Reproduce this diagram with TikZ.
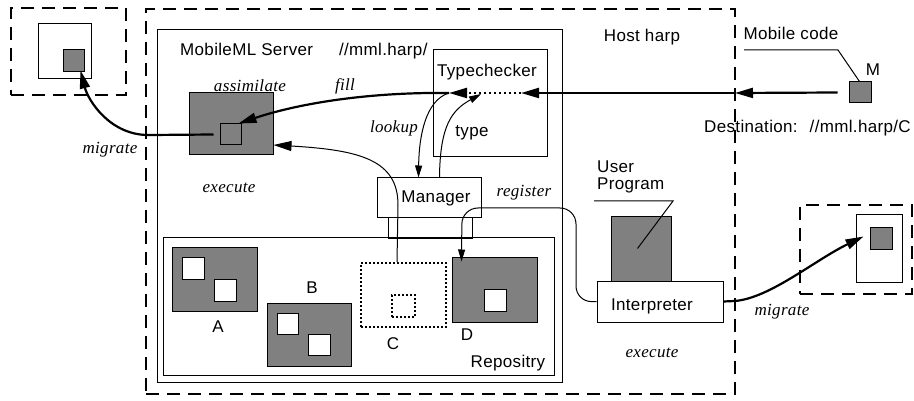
\documentclass[tikz,border=0pt]{standalone}
\usepackage{fontspec}
\newfontfamily\sansfnt{Liberation Sans}[LetterSpace=2]
\newfontfamily\seriffnt{Liberation Serif}[LetterSpace=2]
\usetikzlibrary{arrows.meta,fit}

\tikzset{
  frame/.style={draw, line width=1pt, inner sep=0pt},
  codebox/.style={frame, fill=gray},
  dashbox/.style={draw, line width=2.6pt, dash pattern=on 13pt off 8pt, inner sep=0pt},
  dotbox/.style={draw, line width=2pt, dash pattern=on 2pt off 2pt, inner sep=0pt},
  lbl/.style={inner sep=0pt, font=\sansfnt\fontsize{17pt}{17pt}\selectfont},
  itl/.style={inner sep=0pt, font=\seriffnt\itshape\fontsize{17pt}{19pt}\selectfont},
  wire/.style={line width=1pt},
  heavy/.style={line width=2.2pt},
  bigtip/.style={-{Triangle[length=18pt,width=10pt]}},
  smalltip/.style={-{Triangle[length=12pt,width=7pt]}},
}

\begin{document}
\begin{tikzpicture}[x=1pt,y=-1pt]
\useasboundingbox (0,0) rectangle (914,401);

% ---- remote host on the left
\node[dashbox, fit={(11,8) (126,95)}] (lhost) {};
\node[frame, fit={(38,24) (91,79)}] (lsrv) {};
\node[codebox, fit={(63,50) (84,72)}] (lcode) {};

% ---- remote host on the right
\node[dashbox, fit={(800,205) (912,294)}] (rhost) {};
\node[frame, fit={(856,215) (902,282)}] (rsrv) {};
\node[codebox, fit={(870,228) (892,250)}] (rcode) {};

% ---- host harp
\node[dashbox, fit={(146,9) (735,394)}] (host) {};
\node[lbl] (hostlbl) at (642,37) {Host harp};

% MobileML server
\node[frame, fit={(157,30) (562,382)}] (srv) {};
\node[lbl, anchor=west] (srvlbl) at (180,51) {MobileML Server\hspace{26pt}//mml.harp/};

% assimilated code
\node[codebox, fit={(189,93) (273,155)}] (asm) {};
\node[frame, fit={(220,124) (241,145)}] (asq) {};
\node[itl] (assimlbl) at (250,86) {assimilate};
\node[itl] (filllbl) at (345,86) {fill};
\node[itl] (exec1) at (229,188) {execute};

% typechecker
\node[frame, fit={(433,50) (547,157)}] (tc) {};
\node[lbl] (tclbl) at (487,72) {Typechecker};
\node[lbl] (typelbl) at (472,133) {type};
\node[itl] (lookuplbl) at (394,128) {lookup};

% manager
\node[frame, fit={(377,178) (481,218)}] (man) {};
\node[lbl] (manlbl) at (436,198) {Manager};
\node[frame, fit={(388,218) (472,239)}] (manfoot) {};
\node[itl] (reglbl) at (524,193) {register};

% repository
\node[frame, fit={(163,238) (554,375)}] (repo) {};
\node[lbl] (repolbl) at (508,363) {Repositry};

\node[codebox, fit={(172,248) (257,311)}] (abox) {};
\node[frame, fill=white, fit={(182,258) (204,279)}] (aq1) {};
\node[frame, fill=white, fit={(214,279) (236,301)}] (aq2) {};
\node[lbl] (albl) at (218,327) {A};

\node[codebox, fit={(267,303) (351,366)}] (bbox) {};
\node[frame, fill=white, fit={(277,313) (298,334)}] (bq1) {};
\node[frame, fill=white, fit={(308,334) (330,355)}] (bq2) {};
\node[lbl] (blbl) at (312,288) {B};

\node[dotbox, fit={(361,263) (446,327)}] (cbox) {};
\node[dotbox, fit={(392,295) (415,317)}] (cq) {};
\node[lbl] (clbl) at (393,344) {C};

\node[codebox, fit={(452,258) (537,322)}] (dbox) {};
\node[frame, fill=white, fit={(484,289) (506,311)}] (dq) {};
\node[lbl] (dlbl) at (467,335) {D};

% user program and interpreter
\node[lbl, anchor=north west, align=left] (uplbl) at (597,161) {User\\Program};
\node[codebox, fit={(611,217) (671,284)}] (ubox) {};
\node[frame, fill=white, fit={(597,281) (723,322)}] (interp) {};
\node[lbl] (interplbl) at (652,306) {Interpreter};
\node[itl] (exec2) at (652,353) {execute};
\draw[wire] (594,201) -- (673,201) -- ([xshift=27pt,yshift=-32pt]ubox.north west);

% incoming mobile code
\node[codebox, fit={(849,82) (871,103)}] (mcode) {};
\node[lbl] (mlbl) at (873,70) {M};
\node[lbl] (mclbl) at (791,33) {Mobile code};
\draw[wire] (744,50) -- (838,50) -- ([xshift=11pt]mcode.north west);
\node[lbl, anchor=west] (destlbl) at (704,128) {Destination:\hspace{12pt}//mml.harp/C};

\node[itl] (mig1) at (110,150) {migrate};
\node[itl] (mig2) at (782,312) {migrate};

% ---- connectors
\coordinate (hb) at (735,93);
\coordinate (tcR) at (521,93);
\coordinate (tcL) at (449,93);
\coordinate (tct) at (481,94);

\draw[heavy, bigtip] ([xshift=-11pt]mcode.west) -- (hb);
\draw[heavy, bigtip] (hb) -- (tcR);
\draw[heavy, dash pattern=on 2.5pt off 2.5pt, bigtip] (tcR) -- (tcL);
\draw[heavy, bigtip] (tcL) .. controls (370,92) and (300,103) .. ([xshift=-3pt]asq.north east);

\draw[wire, smalltip] (tcL) .. controls (426,100) and (419,135) .. ([xshift=42pt]man.north west);
\draw[wire, smalltip] ([xshift=63pt]man.north west) .. controls (440,125) and (452,110) .. (tct);

\draw[wire, bigtip] ([xshift=37pt]cbox.north west) -- (398,205) .. controls (398,160) and (360,150) .. ([yshift=-21pt]asm.east);

\draw[wire, rounded corners=16pt, smalltip] (interp.west) -- (576,302) -- (576,208) -- (462,208) -- ([xshift=10pt,yshift=-4pt]dbox.north west);

\draw[heavy, bigtip] ([xshift=-6pt]asq.west) -- (150,135) .. controls (110,136) and (88,100) .. ([xshift=-4pt,yshift=2pt]lcode.south east);
\draw[heavy, bigtip] (interp.east) -- (735,301) .. controls (770,298) and (815,260) .. ([xshift=-6pt,yshift=-9pt]rcode.north west);
\end{tikzpicture}
\end{document}
